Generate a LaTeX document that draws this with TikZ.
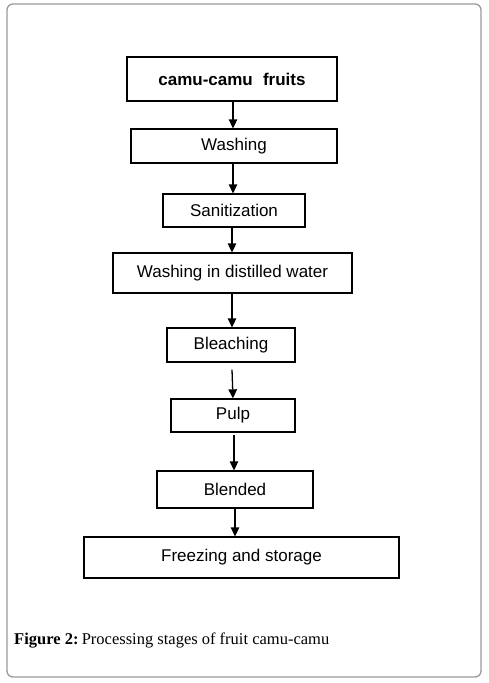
\documentclass[tikz,border=0pt]{standalone}
\usepackage{fontspec}
\setmainfont{Liberation Serif}
\newfontfamily\boxfont{Liberation Sans}
\usetikzlibrary{arrows.meta}
\begin{document}
\begin{tikzpicture}[x=1pt,y=-1pt,
  stage/.style={draw=black,line width=1.3pt,inner sep=0pt,font=\boxfont\fontsize{17}{19}\selectfont},
  arr/.style={line width=1.3pt,-{Triangle[length=9pt,width=8.5pt]}}]
\useasboundingbox (0,0) rectangle (489,683);
\draw[gray!80,line width=1.3pt,rounded corners=6pt] (7,4) rectangle (481,677);
\node[stage,minimum width=210pt,minimum height=44pt,font=\boxfont\bfseries\fontsize{17}{19}\selectfont] (a) at (232,79) {camu-camu\hspace{0.6em}fruits};
\node[stage,minimum width=206pt,minimum height=34pt] (b) at (234,146) {Washing};
\node[stage,minimum width=142pt,minimum height=33pt] (c) at (234,210.5) {Sanitization};
\node[stage,minimum width=239pt,minimum height=40pt] (d) at (232.5,273) {Washing in distilled water};
\node[stage,minimum width=128pt,minimum height=34pt] (e) at (231,345) {Bleaching};
\node[stage,minimum width=124pt,minimum height=33pt] (f) at (233,415.5) {Pulp};
\node[stage,minimum width=156pt,minimum height=37pt] (g) at (235,489.5) {Blended};
\node[stage,minimum width=315pt,minimum height=41pt] (h) at (241.5,557.5) {Freezing and storage};
\draw[arr] (a.south -| 233,0) -- (b.north -| 233,0);
\draw[arr] (b.south -| 233,0) -- (c.north -| 233,0);
\draw[arr] (c.south -| 232,0) -- (d.north -| 232,0);
\draw[arr] (d.south -| 232,0) -- (e.north -| 232,0);
\draw[arr] ([yshift=-7pt]e.south -| 232,0) -- (f.north -| 233,0);
\draw[arr] ([yshift=-2pt]f.south -| 234,0) -- (g.north -| 234,0);
\draw[arr] (g.south -| 235,0) -- (h.north -| 235,0);
\node[anchor=base west,inner sep=0pt,font=\fontsize{16.5}{19}\selectfont] (cap) at (14,644) {\textbf{Figure 2:}\hspace{0.2em}Processing stages of fruit camu-camu};
\end{tikzpicture}
\end{document}
